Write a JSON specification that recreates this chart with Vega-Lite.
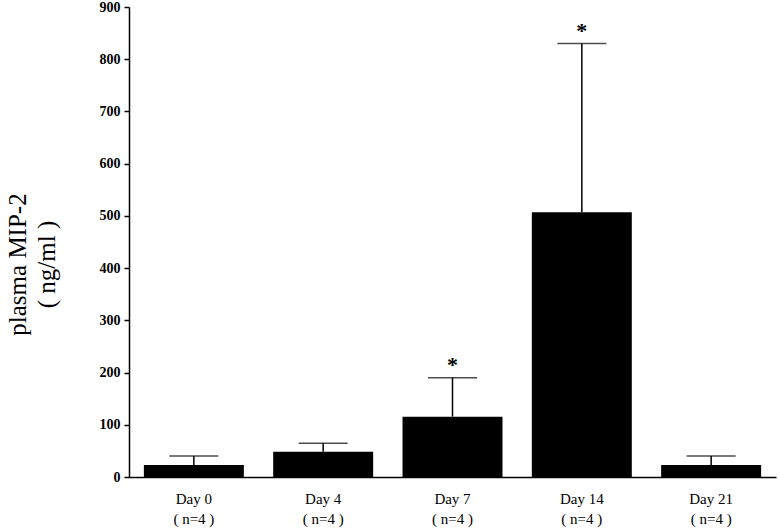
{
  "$schema": "https://vega.github.io/schema/vega-lite/v6.json",
  "width": 647,
  "height": 470,
  "autosize": "none",
  "padding": {"left": 129, "top": 7, "right": 3, "bottom": 55},
  "background": "white",
  "config": {
    "view": {"stroke": null},
    "font": "Liberation Serif",
    "axisY": {
      "domainColor": "black", "domainWidth": 1.5,
      "tickColor": "black", "tickWidth": 1.5, "tickSize": 5,
      "labelFont": "Liberation Serif", "labelFontWeight": "bold", "labelFontSize": 14, "labelColor": "black", "labelPadding": 4,
      "grid": false,
      "titleFont": "Liberation Serif", "titleFontWeight": "normal", "titleFontSize": 25, "titleColor": "black",
      "titleAngle": -90, "titleX": -124, "titleY": 257, "titleAlign": "center", "titleBaseline": "top", "titleLineHeight": 29
    }
  },
  "data": {"values": [
    {"day": "Day 0", "mean": 23, "upper": 40, "star": ""},
    {"day": "Day 4", "mean": 48.5, "upper": 64.5, "star": ""},
    {"day": "Day 7", "mean": 115.5, "upper": 190, "star": "*"},
    {"day": "Day 14", "mean": 507, "upper": 830, "star": "*"},
    {"day": "Day 21", "mean": 23, "upper": 40, "star": ""}
  ]},
  "encoding": {
    "x": {
      "field": "day", "type": "nominal", "sort": null,
      "scale": {"paddingInner": 0.227, "paddingOuter": 0.115},
      "axis": {
        "title": null, "labelAngle": 0, "ticks": false,
        "domainColor": "black", "domainWidth": 1.5,
        "labelFont": "Liberation Serif", "labelFontSize": 15, "labelColor": "black",
        "labelBaseline": "top", "labelPadding": 14, "labelLineHeight": 20,
        "labelExpr": "[datum.value, '( n=4 )']"
      }
    }
  },
  "layer": [
    {
      "mark": {"type": "rule", "color": "black", "strokeWidth": 1.5},
      "encoding": {
        "y": {"field": "mean", "type": "quantitative", "scale": {"domain": [0, 900]}, "title": ["plasma MIP-2", "( ng/ml )"], "axis": {"values": [0,100,200,300,400,500,600,700,800,900]}},
        "y2": {"field": "upper"}
      }
    },
    {
      "mark": {"type": "bar", "color": "black"},
      "encoding": {
        "y": {"field": "mean", "type": "quantitative", "title": ["plasma MIP-2", "( ng/ml )"]}
      }
    },
    {
      "mark": {"type": "tick", "color": "black", "size": 49, "thickness": 1.5},
      "encoding": {
        "y": {"field": "upper", "type": "quantitative", "title": ["plasma MIP-2", "( ng/ml )"]}
      }
    },
    {
      "mark": {"type": "text", "color": "black", "fontSize": 22, "fontWeight": "bold", "baseline": "alphabetic", "dy": -6},
      "encoding": {
        "y": {"field": "upper", "type": "quantitative", "title": ["plasma MIP-2", "( ng/ml )"]},
        "text": {"field": "star"}
      }
    }
  ]
}
